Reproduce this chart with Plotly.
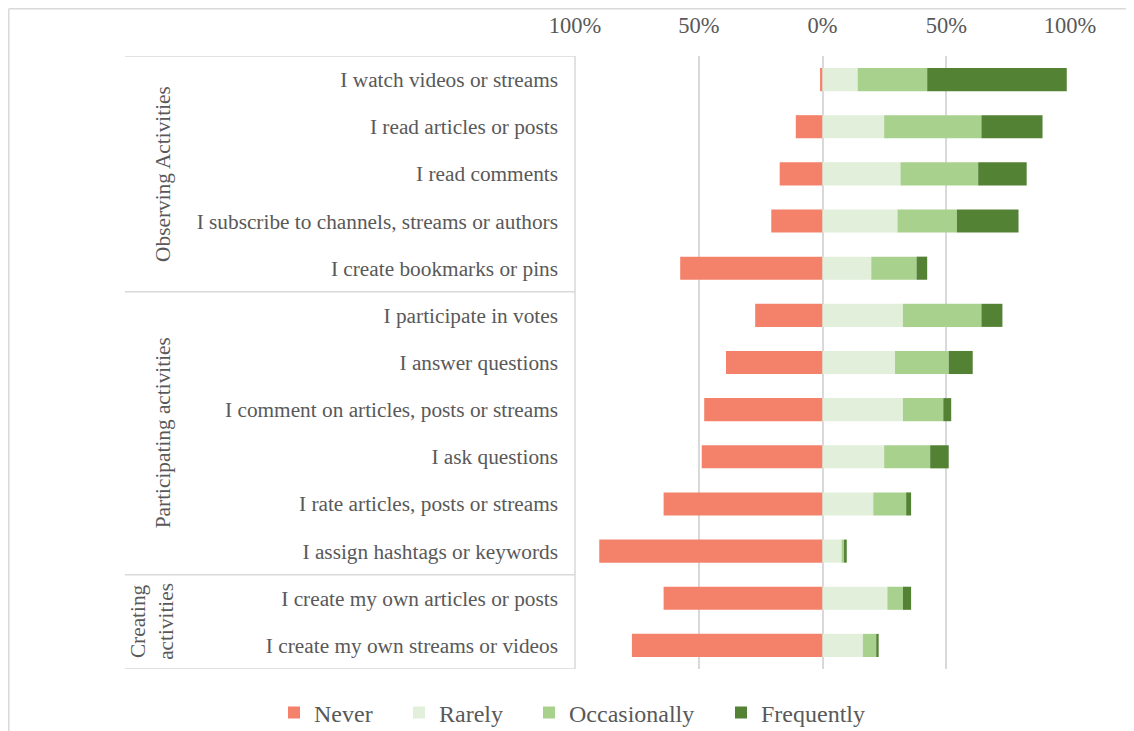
import plotly.graph_objects as go

categories = [
    "I watch videos or streams",
    "I read articles or posts",
    "I read comments",
    "I subscribe to channels, streams or authors",
    "I create bookmarks or pins",
    "I participate in votes",
    "I answer questions",
    "I comment on articles, posts or streams",
    "I ask questions",
    "I rate articles, posts or streams",
    "I assign hashtags or keywords",
    "I create my own articles or posts",
    "I create my own streams or videos",
]
never = [1.0, 10.8, 17.3, 20.7, 57.5, 27.2, 39.0, 47.8, 48.8, 64.2, 90.2, 64.2, 77.0]
rarely = [14.2, 24.9, 31.5, 30.3, 19.7, 32.5, 29.3, 32.5, 24.9, 20.5, 7.7, 26.2, 16.3]
occasionally = [28.1, 39.3, 31.4, 24.0, 18.3, 31.7, 21.7, 16.3, 18.6, 13.3, 1.0, 6.3, 5.4]
frequently = [56.4, 24.7, 19.6, 24.9, 4.3, 8.5, 9.7, 3.2, 7.5, 2.0, 1.1, 3.3, 1.0]
groups = ["Observing Activities", "Participating activities", "Creating<br>activities"]
group_sizes = [5, 6, 2]
tick_vals = [-100, -50, 0, 50, 100]
tick_text = ["100%", "50%", "0%", "50%", "100%"]
series_names = ["Never", "Rarely", "Occasionally", "Frequently"]
series_values = [[-v for v in never], rarely, occasionally, frequently]

colors = {"Never": "#F4826A", "Rarely": "#E2EFDA", "Occasionally": "#A9D18E", "Frequently": "#548235"}
TXT = "#595959"
GRID = "#D9D9D9"
FONT = "Liberation Serif"

# page has an 8px body margin; work in screen pixels and offset
OFF = 8
W, H = 1134 - OFF, 731 - OFF
L = 575 - OFF
T = 56 - OFF
R = W - (1070 - OFF)
B = H - (669 - OFF)
pw = W - L - R
ph = H - T - B

def px_to_paper_x(px):
    return (px - OFF - L) / pw

def px_to_paper_y(py):
    return (H - B - (py - OFF)) / ph

legend_ids = ["legend", "legend2", "legend3", "legend4"]
legend_px = [288, 413, 543, 735]

fig = go.Figure()
for name, vals, lid in zip(series_names, series_values, legend_ids):
    fig.add_trace(go.Bar(y=categories, x=vals, name=name, orientation="h", legend=lid,
                         marker=dict(color=colors[name], line=dict(width=0))))

shapes = []
left_px = 125
bounds = [-0.5]
acc = -0.5
for s in group_sizes:
    acc += s
    bounds.append(acc)
for b in bounds:
    shapes.append(dict(type="line", xref="paper", yref="y", x0=px_to_paper_x(left_px), x1=0,
                       y0=b, y1=b, line=dict(color=GRID, width=1.5)))
shapes.append(dict(type="line", xref="paper", yref="y", x0=0, x1=0, y0=-0.5, y1=12.5,
                   line=dict(color=GRID, width=1.5)))
shapes.append(dict(type="line", xref="paper", yref="paper",
                   x0=px_to_paper_x(8.8), x1=px_to_paper_x(8.8),
                   y0=px_to_paper_y(800), y1=px_to_paper_y(8.8),
                   line=dict(color=GRID, width=1.5)))
shapes.append(dict(type="line", xref="paper", yref="paper",
                   x0=px_to_paper_x(8.8), x1=px_to_paper_x(1200),
                   y0=px_to_paper_y(8.8), y1=px_to_paper_y(8.8),
                   line=dict(color=GRID, width=1.5)))

annotations = []
acc = -0.5
gx = [163, 163, 152]
for g, s, x in zip(groups, group_sizes, gx):
    center = acc + s / 2
    acc += s
    annotations.append(dict(text=g, xref="paper", yref="y", x=px_to_paper_x(x), y=center,
                            textangle=-90, showarrow=False, xanchor="center", yanchor="middle",
                            font=dict(family=FONT, size=21.3, color=TXT)))

legend_layout = {}
for lid, lx in zip(legend_ids, legend_px):
    legend_layout[lid] = dict(orientation="h", x=px_to_paper_x(lx - 14), xanchor="left",
                              y=px_to_paper_y(713), yanchor="middle",
                              font=dict(family=FONT, size=24, color=TXT),
                              itemwidth=30, bgcolor="rgba(0,0,0,0)")

fig.update_layout(
    width=W, height=H,
    margin=dict(l=L, r=R, t=T, b=B, autoexpand=False),
    barmode="relative",
    bargap=0.51,
    plot_bgcolor="white",
    paper_bgcolor="white",
    font=dict(family=FONT, size=21.3, color=TXT),
    showlegend=True,
    shapes=shapes,
    annotations=annotations,
    **legend_layout,
)
fig.update_xaxes(range=[-100, 100], side="top", tickvals=tick_vals, ticktext=tick_text,
                 showgrid=True, gridcolor=GRID, gridwidth=1.5, zeroline=False,
                 showline=False, ticks="", ticklabelstandoff=18,
                 tickfont=dict(family=FONT, size=22.5, color=TXT))
fig.update_yaxes(type="category", categoryorder="array", categoryarray=categories,
                 range=[12.5, -0.5], showgrid=False, zeroline=False, showline=False,
                 ticks="", ticklabelstandoff=16,
                 tickfont=dict(family=FONT, size=21.3, color=TXT))

fig.write_html("out.html")
